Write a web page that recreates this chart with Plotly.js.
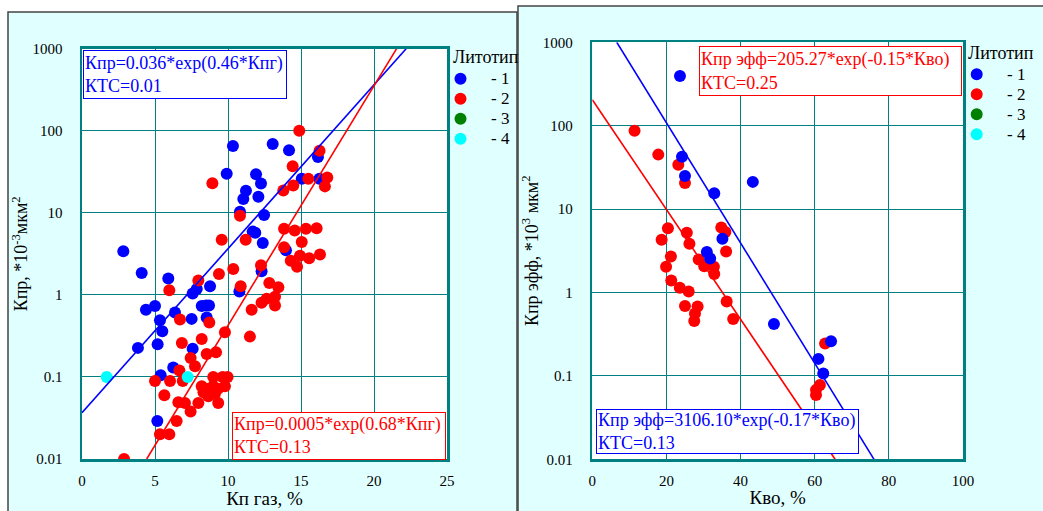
<!DOCTYPE html>
<html>
<head>
<meta charset="utf-8">
<script src="https://cdn.plot.ly/plotly-3.0.1.min.js"></script>
<style>html,body{margin:0;padding:0;background:#fff;}#chart{width:1043px;height:511px;}</style>
</head>
<body>
<div id="chart"></div>
<script>
// ---------- Left panel: Кп газ vs Кпр ----------
const kpgLith1 = [10.34,13.06,14.18,16.16,9.91,11.92,12.26,11.23,11.05,12.08,15.05,16.26,10.82,12.47,11.69,11.87,12.38,13.97,2.83,4.09,5.91,7.86,7.58,8.77,10.78,12.3,4.38,5.0,6.37,8.2,8.5,8.7,5.34,8.54,7.51,5.5,3.83,5.18,7.58,6.25,5.39,5.16];
const kprLith1 = [65,69,58,48,30,29.5,22.8,18.6,14.7,15.7,26,26,10.3,9.4,5.9,5.7,4.3,3.5,3.4,1.85,1.58,1.18,1.04,1.27,1.1,1.94,0.66,0.73,0.61,0.73,0.74,0.74,0.49,0.53,0.51,0.36,0.226,0.25,0.22,0.13,0.105,0.029];
const kpgLith2 = [14.88,16.27,14.43,8.93,15.5,16.8,16.64,13.79,14.47,10.82,9.57,11.21,13.84,14.57,15.34,16.07,15.05,13.84,16.3,14.93,14.3,14.73,15.56,9.38,10.36,12.26,7.97,5.98,10.87,12.83,13.45,11.62,12.3,12.65,13.22,13.22,6.71,8.72,8.2,6.84,9.79,7.44,7.74,8.54,9.18,6.67,5.0,6.03,6.9,5.64,6.6,7.05,7.44,6.48,5.34,5.98,2.88,8.99,9.63,9.97,8.2,8.65,8.99,9.32,9.79,7.97,8.65,9.33,8.32,9.1,11.5];
const kprLith2 = [100,57,37,23,26,27,21,18.7,21.5,9.2,4.7,4.7,6.4,6.1,6.4,6.5,4.4,3.8,3.1,3.0,2.6,2.2,2.8,1.8,2.07,2.3,1.5,1.14,1.27,1.4,1.24,0.66,0.8,0.9,0.95,0.74,0.5,0.46,0.29,0.26,0.35,0.17,0.135,0.19,0.2,0.12,0.089,0.089,0.089,0.06,0.049,0.048,0.038,0.029,0.02,0.02,0.01,0.1,0.1,0.1,0.077,0.072,0.077,0.072,0.077,0.048,0.058,0.048,0.065,0.062,0.31];
const kpgLith4 = [1.69,7.24];
const kprLith4 = [0.1,0.1];
// fit line end points
const fitL1x = [0, 22.2],   fitL1y = [0.0367, 1000];
const fitL2x = [4.43, 21.55], fitL2y = [0.01, 1000];

// ---------- Right panel: Кво vs Кпр эфф ----------
const kvoLith1 = [23.65,24.2,25.0,32.9,43.3,35.1,30.9,31.8,49.0,64.4,61.0,62.3];
const kprEffLith1 = [394,42.5,25,15.5,21.2,4.4,3.05,2.55,0.42,0.26,0.16,0.107];
const kvoLith2 = [11.4,17.8,23.2,25.0,20.4,18.7,25.5,26.2,34.8,35.9,36.1,21.2,19.9,28.7,30.2,32.8,32.9,21.3,23.6,26.0,25.0,28.4,27.7,27.5,36.25,38.0,62.8,61.4,60.35,60.35];
const kprEffLith2 = [87,45,34,20.6,5.9,4.3,5.2,3.85,6.0,5.3,3.1,2.7,2.04,2.48,2.07,2.04,1.67,1.39,1.14,1.03,0.69,0.68,0.56,0.455,0.78,0.48,0.245,0.078,0.068,0.059];
const fitR1x = [6.6, 76.0], fitR1y = [1000, 0.01];
const fitR2x = [0, 65.5],   fitR2y = [205, 0.01];

const logTickVals = [0.01,0.1,1,10,100,1000];
const logTickText = ['0.01','0.1','1','10','100','1000'];
const xTicksL = [0,5,10,15,20,25];
const xTicksR = [0,20,40,60,80,100];
const legendLabels = ['- 1','- 2','- 3','- 4'];
const legendTitle = 'Литотип';

const W = 1043, H = 511;
const FONT = 'Liberation Serif';
const TEAL = '#008080';
const BLUE = '#0000ff', RED = '#ff0000', GREEN = '#008000', CYAN = '#00ffff';
const legendColors = [BLUE, RED, GREEN, CYAN];
const MS = 12;

function pts(x, y, color, name, xa, ya) {
  return {type:'scatter', mode:'markers', x:x, y:y, name:name, xaxis:xa, yaxis:ya, showlegend:false,
    marker:{color:color, size:MS, line:{width:0}}, hoverinfo:'skip'};
}
function fit(x, y, color, xa, ya) {
  return {type:'scatter', mode:'lines', x:x, y:y, xaxis:xa, yaxis:ya, showlegend:false,
    line:{color:color, width:1.6}, hoverinfo:'skip'};
}

const data = [
  pts(kpgLith1, kprLith1, BLUE, legendLabels[0], 'x', 'y'),
  pts(kpgLith2, kprLith2, RED, legendLabels[1], 'x', 'y'),
  pts(kpgLith4, kprLith4, CYAN, legendLabels[3], 'x', 'y'),
  fit(fitL1x, fitL1y, BLUE, 'x', 'y'),
  fit(fitL2x, fitL2y, RED, 'x', 'y'),
  pts(kvoLith2, kprEffLith2, RED, legendLabels[1], 'x2', 'y2'),
  pts(kvoLith1, kprEffLith1, BLUE, legendLabels[0], 'x2', 'y2'),
  fit(fitR1x, fitR1y, BLUE, 'x2', 'y2'),
  fit(fitR2x, fitR2y, RED, 'x2', 'y2')
];

// plot area pixel boxes
const L = {x0:82, x1:447, y0:48.7, y1:459};
const R = {x0:592.3, x1:963, y0:42.3, y1:459.3};
const px = v => v / W, py = v => 1 - v / H;

function xaxis(dom, range, ticks, title) {
  return {domain:[px(dom[0]), px(dom[1])], range:range, tickvals:ticks, ticktext:ticks.map(String),
    showgrid:true, gridcolor:TEAL, gridwidth:1, zeroline:false, showline:true, mirror:true,
    linecolor:TEAL, linewidth:2.5, ticks:'', ticklabelstandoff:6,
    tickfont:{family:FONT, size:15, color:'#000'},
    title:{text:title, font:{family:FONT, size:19, color:'#000'}, standoff:3}, fixedrange:true};
}
function yaxis(dom, anchor, title) {
  return {domain:[py(dom[1]), py(dom[0])], type:'log', range:[-2,3], anchor:anchor,
    tickvals:logTickVals, ticktext:logTickText,
    showgrid:true, gridcolor:TEAL, gridwidth:1, zeroline:false, showline:true, mirror:true,
    linecolor:TEAL, linewidth:2.5, ticks:'', ticklabelstandoff:14,
    tickfont:{family:FONT, size:15, color:'#000'},
    title:{text:title, font:{family:FONT, size:18, color:'#000'}, standoff:0}, fixedrange:true};
}

function box(text, color, x0, y0, w, h) {
  return {xref:'paper', yref:'paper', x:px(x0), y:py(y0), xanchor:'left', yanchor:'top',
    text:text, showarrow:false, align:'left', valign:'middle', width:w - 4, height:h - 4,
    bgcolor:'#ffffff', bordercolor:color, borderwidth:1, borderpad:1,
    font:{family:FONT, size:18, color:color}};
}

// legends drawn from legendLabels / legendColors
const legendL = {title:[450.5, 57], markX:460.5, textX:489, rows:[78.7, 98.7, 118.7, 138.7]};
const legendR = {title:[965.5, 53], markX:976.7, textX:1005, rows:[74.3, 94.3, 114.3, 134.3]};
const legShapes = [], legAnn = [];
[legendL, legendR].forEach(lg => {
  legAnn.push({xref:'paper', yref:'paper', x:px(lg.title[0]), y:py(lg.title[1]), xanchor:'left', yanchor:'middle',
    text:legendTitle, showarrow:false, font:{family:FONT, size:18, color:'#000'}});
  legendLabels.forEach((lab, i) => {
    const r = MS / 2;
    legShapes.push({type:'circle', xref:'paper', yref:'paper', x0:px(lg.markX - r), x1:px(lg.markX + r),
      y0:py(lg.rows[i] + r), y1:py(lg.rows[i] - r), fillcolor:legendColors[i], line:{width:0}});
    legAnn.push({xref:'paper', yref:'paper', x:px(lg.textX), y:py(lg.rows[i]), xanchor:'left', yanchor:'middle',
      text:lab, showarrow:false, font:{family:FONT, size:17, color:'#000'}});
  });
});

const layout = {
  width:W, height:H, margin:{l:0, r:0, t:0, b:0, pad:0},
  paper_bgcolor:'#ffffff', plot_bgcolor:'rgba(0,0,0,0)', showlegend:false,
  font:{family:FONT, color:'#000'},
  xaxis: xaxis([L.x0, L.x1], [0, 25], xTicksL, 'Кп газ, %'),
  yaxis: yaxis([L.y0, L.y1], 'x', 'Кпр, *10<sup>-3</sup>мкм<sup>2</sup>'),
  xaxis2: Object.assign(xaxis([R.x0, R.x1], [0, 100], xTicksR, 'Кво, %'), {anchor:'y2'}),
  yaxis2: yaxis([R.y0, R.y1], 'x2', 'Кпр эфф, *10<sup>3</sup> мкм<sup>2</sup>'),
  shapes:[
    {type:'rect', xref:'paper', yref:'paper', layer:'below', x0:px(8), x1:px(517), y0:-0.05, y1:py(12),
      fillcolor:'#e0ffff', line:{color:'#444', width:1.5}},
    {type:'rect', xref:'paper', yref:'paper', layer:'below', x0:px(518), x1:1.05, y0:-0.05, y1:py(6),
      fillcolor:'#e0ffff', line:{color:'#444', width:1.5}},
    {type:'rect', xref:'paper', yref:'paper', layer:'below', x0:px(L.x0), x1:px(L.x1), y0:py(L.y1), y1:py(L.y0),
      fillcolor:'#ffffff', line:{width:0}},
    {type:'rect', xref:'paper', yref:'paper', layer:'below', x0:px(R.x0), x1:px(R.x1), y0:py(R.y1), y1:py(R.y0),
      fillcolor:'#ffffff', line:{width:0}}
  ].concat(legShapes),
  annotations:[
    box('Кпр=0.036*exp(0.46*Кпг)<br>КТС=0.01', BLUE, 82.5, 50, 204, 49),
    box('Кпр=0.0005*exp(0.68*Кпг)<br>КТС=0.13', RED, 231.5, 411.5, 214, 47.5),
    box('Кпр эфф=205.27*exp(-0.15*Кво)<br>КТС=0.25', RED, 698.5, 46, 263, 50),
    box('Кпр эфф=3106.10*exp(-0.17*Кво)<br>КТС=0.13', BLUE, 595.5, 409, 263, 44.5)
  ].concat(legAnn)
};

Plotly.newPlot('chart', data, layout, {staticPlot:true, displayModeBar:false});
</script>
</body>
</html>
